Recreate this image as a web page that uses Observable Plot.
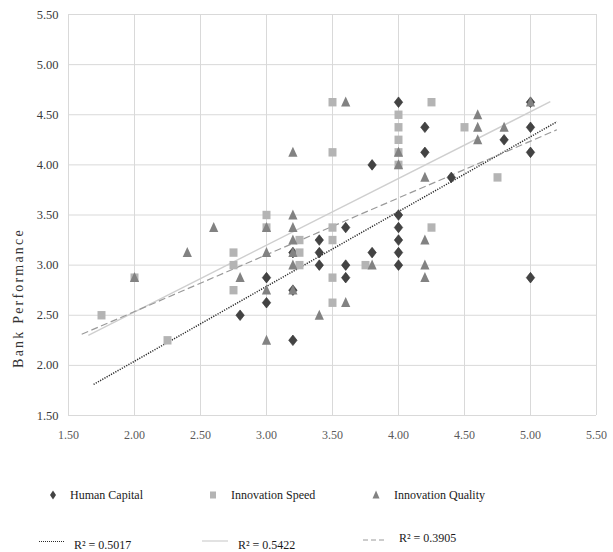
<!DOCTYPE html>
<html><head><meta charset="utf-8">
<script src="https://cdn.jsdelivr.net/npm/d3@7"></script>
<script src="https://cdn.jsdelivr.net/npm/@observablehq/plot@0.6"></script>
<style>
body{margin:0;background:#fff;}
#wrap{position:relative;width:613px;height:552px;overflow:hidden;font-family:"Liberation Serif","Times New Roman",serif;}
.lg{position:absolute;font-size:12px;color:#1a1a1a;white-space:nowrap;line-height:14px;}
.lg svg{position:absolute;overflow:visible}
</style></head><body><div id="wrap"></div>
<script>
// ---- data ----
const xTicks = [1.5, 2, 2.5, 3, 3.5, 4, 4.5, 5, 5.5];
const yTicks = [1.5, 2, 2.5, 3, 3.5, 4, 4.5, 5, 5.5];
const seriesNames = ["Human Capital", "Innovation Speed", "Innovation Quality"];
const r2Labels = ["R² = 0.5017", "R² = 0.5422", "R² = 0.3905"];

const hcX = [2.8, 3.0, 3.0, 3.2, 3.2, 3.2, 3.4, 3.4, 3.4, 3.6, 3.6, 3.6, 3.8, 3.8, 4.0, 4.0, 4.0, 4.0, 4.0, 4.0, 4.2, 4.2, 4.4, 4.8, 5.0, 5.0, 5.0, 5.0];
const hcY = [2.5, 2.875, 2.625, 3.125, 2.75, 2.25, 3.25, 3.125, 3.0, 3.375, 3.0, 2.875, 3.125, 4.0, 4.625, 3.5, 3.375, 3.25, 3.125, 3.0, 4.375, 4.125, 3.875, 4.25, 4.625, 4.375, 4.125, 2.875];

const isX = [1.75, 2.0, 2.25, 2.75, 2.75, 2.75, 3.0, 3.0, 3.25, 3.25, 3.25, 3.5, 3.5, 3.5, 3.5, 3.5, 3.5, 3.75, 4.0, 4.0, 4.0, 4.0, 4.0, 4.25, 4.25, 4.5, 4.75];
const isY = [2.5, 2.875, 2.25, 3.125, 3.0, 2.75, 3.5, 3.375, 3.25, 3.125, 3.0, 4.625, 4.125, 3.375, 3.25, 2.875, 2.625, 3.0, 4.5, 4.375, 4.25, 4.125, 4.0, 4.625, 3.375, 4.375, 3.875];

const iqX = [2.0, 2.4, 2.6, 2.8, 3.0, 3.0, 3.0, 3.0, 3.2, 3.2, 3.2, 3.2, 3.2, 3.2, 3.2, 3.4, 3.6, 3.6, 3.8, 4.0, 4.0, 4.2, 4.2, 4.2, 4.2, 4.6, 4.6, 4.6, 4.8, 5.0];
const iqY = [2.875, 3.125, 3.375, 2.875, 3.375, 3.125, 2.75, 2.25, 4.125, 3.5, 3.375, 3.25, 3.125, 3.0, 2.75, 2.5, 4.625, 2.625, 3.0, 4.125, 4.0, 3.875, 3.25, 3.0, 2.875, 4.5, 4.375, 4.25, 4.375, 4.625];

// trendline end points
const trendX1 = [1.69, 1.65, 1.60];
const trendY1 = [1.81, 2.30, 2.31];
const trendX2 = [5.20, 5.15, 5.20];
const trendY2 = [4.43, 4.63, 4.35];

// ---- build ----
const toRows = (xs, ys) => xs.map((x, i) => ({x, y: ys[i]}));
const hc = toRows(hcX, hcY), is = toRows(isX, isY), iq = toRows(iqX, iqY);
const trends = trendX1.map((x1, i) => ({i, x1, y1: trendY1[i], x2: trendX2[i], y2: trendY2[i]}));

const diamondSym = {draw(c){c.moveTo(0,-5.3);c.lineTo(4.2,0);c.lineTo(0,5.3);c.lineTo(-4.2,0);c.closePath();}};
const squareSym = {draw(c){c.rect(-4,-4.2,8,8.4);}};
const triSym = {draw(c){c.moveTo(0,-5.6);c.lineTo(4.6,4.4);c.lineTo(-4.6,4.4);c.closePath();}};

const colD = "#434343", colS = "#b4b4b4", colT = "#828282";
const lineStyles = [
  {stroke: "#2b2b2b", strokeWidth: 1.5, strokeDasharray: "1.2,1.3"},
  {stroke: "#cfcfcf", strokeWidth: 1.4, strokeDasharray: null},
  {stroke: "#9a9a9a", strokeWidth: 1.2, strokeDasharray: "7,3.5"}
];

const chart = Plot.plot({
  width: 613, height: 460,
  marginLeft: 68, marginRight: 17, marginTop: 14, marginBottom: 45,
  x: {domain: [1.5, 5.5]},
  y: {domain: [1.5, 5.5]},
  style: {fontFamily: "'Liberation Serif','Times New Roman',serif", fontSize: "12px", background: "white", overflow: "visible"},
  marks: [
    Plot.gridX(xTicks, {stroke: "#d9d9d9", strokeOpacity: 1, strokeWidth: 1}),
    Plot.gridY(yTicks, {stroke: "#d9d9d9", strokeOpacity: 1, strokeWidth: 1}),
    Plot.axisX(xTicks, {tickSize: 0, tickPadding: 15, tickFormat: d3.format(".2f"), fill: "#5a5a5a", label: null, fontSize: 12}),
    Plot.axisY(yTicks, {tickSize: 0, tickPadding: 10, tickFormat: d3.format(".2f"), fill: "#3a3a3a", label: null, fontSize: 12.5}),
    Plot.text(["Bank Performance"], {frameAnchor: "left", textAnchor: "middle", rotate: -90, dx: -50, dy: 83, fontSize: 14, fill: "#333"}),
    ...lineStyles.map((s, k) => Plot.link(trends.filter(d => d.i === k), {x1: "x1", y1: "y1", x2: "x2", y2: "y2", ...s})),
    Plot.dot(hc, {x: "x", y: "y", symbol: diamondSym, fill: colD, stroke: "#2e2e2e", strokeWidth: 0.6}),
    Plot.dot(is, {x: "x", y: "y", symbol: squareSym, fill: colS, stroke: "none"}),
    Plot.dot(iq, {x: "x", y: "y", symbol: triSym, fill: colT, stroke: "none"})
  ]
});
d3.select(chart).selectAll("text").filter(function(){return this.textContent === "Bank Performance";}).style("letter-spacing", "2.2px");

const wrap = document.getElementById("wrap");
wrap.appendChild(chart);

// ---- legend (HTML) ----
function item(left, top, markerSvg, label) {
  const d = document.createElement("div");
  d.className = "lg";
  d.style.left = left + "px"; d.style.top = top + "px";
  d.innerHTML = markerSvg + `<span>${label}</span>`;
  wrap.appendChild(d);
}
const mk = (inner) => `<svg width="1" height="14" style="left:0;top:0">${inner}</svg>`;
item(70, 488, mk(`<path d="M0,2.5 L3,7 L0,11.5 L-3,7Z" fill="${colD}" transform="translate(-17,0)"/>`), seriesNames[0]);
item(231, 488, mk(`<rect x="-21" y="3.5" width="6" height="7" fill="${colS}"/>`), seriesNames[1]);
item(394, 488, mk(`<path d="M-18,2.5 L-14.5,10.5 L-21.5,10.5Z" fill="${colT}"/>`), seriesNames[2]);
item(74, 538, mk(`<line x1="-35" x2="-9" y1="3.5" y2="3.5" stroke="#2b2b2b" stroke-width="1" stroke-dasharray="1,1"/>`), r2Labels[0]);
item(238, 538, mk(`<line x1="-36" x2="-10" y1="3" y2="3" stroke="#cfcfcf" stroke-width="1.2"/>`), r2Labels[1]);
item(399, 531, mk(`<line x1="-36" x2="-12" y1="9" y2="9" stroke="#9a9a9a" stroke-width="1" stroke-dasharray="5,3"/>`), r2Labels[2]);
</script></body></html>
